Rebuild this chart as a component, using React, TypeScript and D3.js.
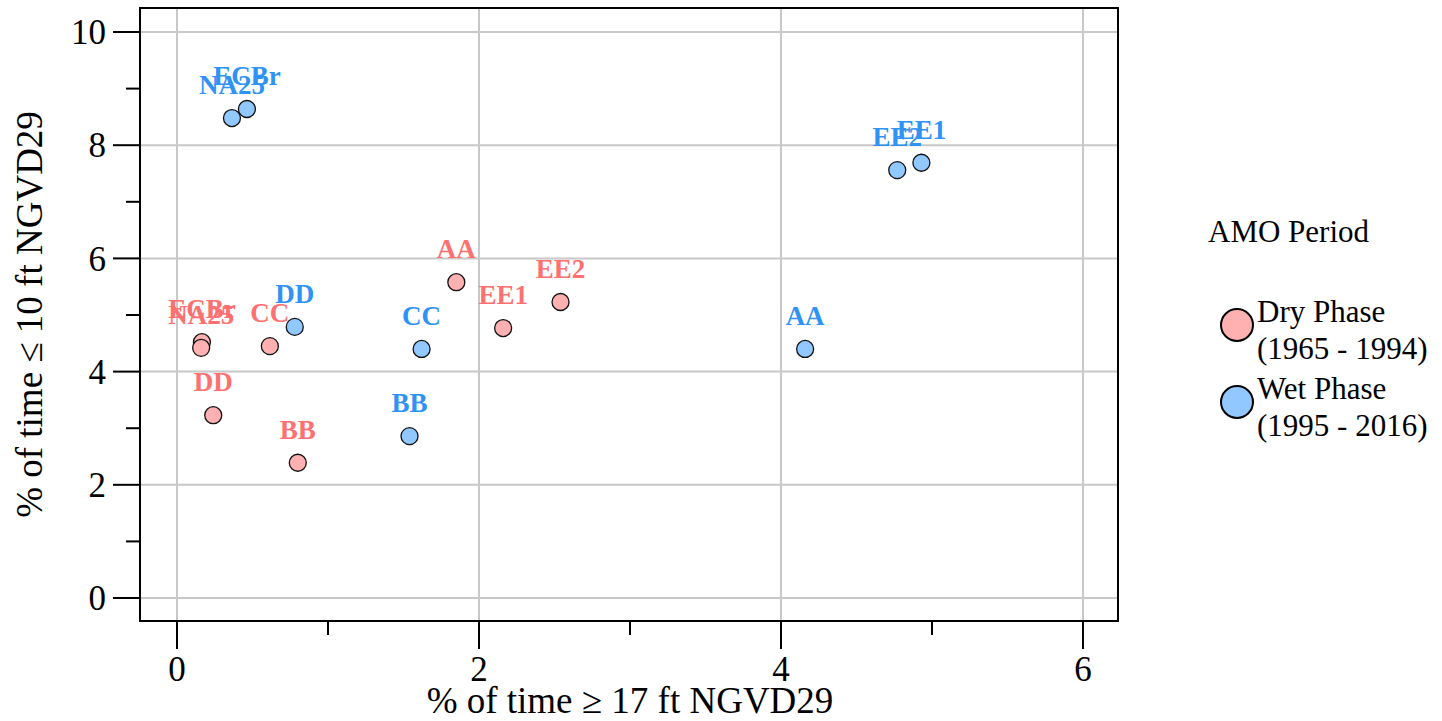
import React from "react";
import * as d3 from "d3";

const sites = ["AA", "BB", "CC", "DD", "EE1", "EE2", "ECBr", "NA25"];
const dryX = [1.85, 0.80, 0.615, 0.24, 2.16, 2.54, 0.165, 0.16];
const dryY = [5.58, 2.39, 4.45, 3.23, 4.77, 5.23, 4.52, 4.42];
const wetX = [4.16, 1.54, 1.62, 0.78, 4.93, 4.77, 0.463, 0.364];
const wetY = [4.40, 2.86, 4.40, 4.79, 7.69, 7.56, 8.64, 8.48];

const xTicks = [0, 2, 4, 6];
const xMinor = [1, 3, 5];
const yTicks = [0, 2, 4, 6, 8, 10];
const yMinor = [1, 3, 5, 7, 9];

const phases = [
  { name: "Dry Phase", years: "(1965 - 1994)", fill: "#FFB0B0", text: "#FF7070" },
  { name: "Wet Phase", years: "(1995 - 2016)", fill: "#90C8FF", text: "#2F93F5" },
];

const W = 1442, H = 721;
const L = 140, R = 1118, T = 8, B = 621;
const FONT = "Liberation Serif, Tinos, Times New Roman, serif";

export default function App() {
  const x = d3.scaleLinear().domain([-0.245, 6.232]).range([L, R]);
  const y = d3.scaleLinear().domain([-0.406, 10.424]).range([B, T]);

  const series = [
    { xs: dryX, ys: dryY, ...phases[0] },
    { xs: wetX, ys: wetY, ...phases[1] },
  ];

  return (
    <svg width={W} height={H} style={{ position: "absolute", left: 0, top: 0, background: "#fff", fontFamily: FONT }}>
      {xTicks.map((t) => (
        <line key={"gx" + t} x1={x(t)} x2={x(t)} y1={T} y2={B} stroke="#c8c8c8" strokeWidth={2} />
      ))}
      {yTicks.map((t) => (
        <line key={"gy" + t} x1={L} x2={R} y1={y(t)} y2={y(t)} stroke="#c8c8c8" strokeWidth={2} />
      ))}
      <rect x={L} y={T} width={R - L} height={B - T} fill="none" stroke="#000" strokeWidth={2} />
      {yTicks.map((t) => (
        <g key={"yt" + t}>
          <line x1={L - 27} x2={L} y1={y(t)} y2={y(t)} stroke="#000" strokeWidth={2} />
          <text x={L - 34} y={y(t)} dy="0.35em" textAnchor="end" fontSize={35}>{t}</text>
        </g>
      ))}
      {yMinor.map((t) => (
        <line key={"ym" + t} x1={L - 14} x2={L} y1={y(t)} y2={y(t)} stroke="#000" strokeWidth={2} />
      ))}
      {xTicks.map((t) => (
        <g key={"xt" + t}>
          <line x1={x(t)} x2={x(t)} y1={B} y2={B + 28} stroke="#000" strokeWidth={2} />
          <text x={x(t)} y={B + 60} textAnchor="middle" fontSize={35}>{t}</text>
        </g>
      ))}
      {xMinor.map((t) => (
        <line key={"xm" + t} x1={x(t)} x2={x(t)} y1={B} y2={B + 14} stroke="#000" strokeWidth={2} />
      ))}
      <text x={630} y={713} textAnchor="middle" fontSize={37}>% of time ≥ 17 ft NGVD29</text>
      <text transform={`translate(42,${(T + B) / 2}) rotate(-90)`} textAnchor="middle" fontSize={37}>
        % of time ≤ 10 ft NGVD29
      </text>
      {series.map((s, si) => (
        <g key={"s" + si}>
          {sites.map((name, i) => (
            <circle key={name} cx={x(s.xs[i])} cy={y(s.ys[i])} r={8.5} fill={s.fill} stroke="#111" strokeWidth={1.3} />
          ))}
          {sites.map((name, i) => (
            <text key={"l" + name} x={x(s.xs[i])} y={y(s.ys[i]) - 24} textAnchor="middle" fontSize={27} fontWeight="bold" fill={s.text}>
              {name}
            </text>
          ))}
        </g>
      ))}
      <text x={1208} y={242} fontSize={31}>AMO Period</text>
      {phases.map((p, i) => (
        <g key={"lg" + i} transform={`translate(0,${i * 77})`}>
          <circle cx={1237} cy={325} r={16} fill={p.fill} stroke="#000" strokeWidth={2} />
          <text x={1257} y={322} fontSize={31}>{p.name}</text>
          <text x={1257} y={359} fontSize={31}>{p.years}</text>
        </g>
      ))}
    </svg>
  );
}
